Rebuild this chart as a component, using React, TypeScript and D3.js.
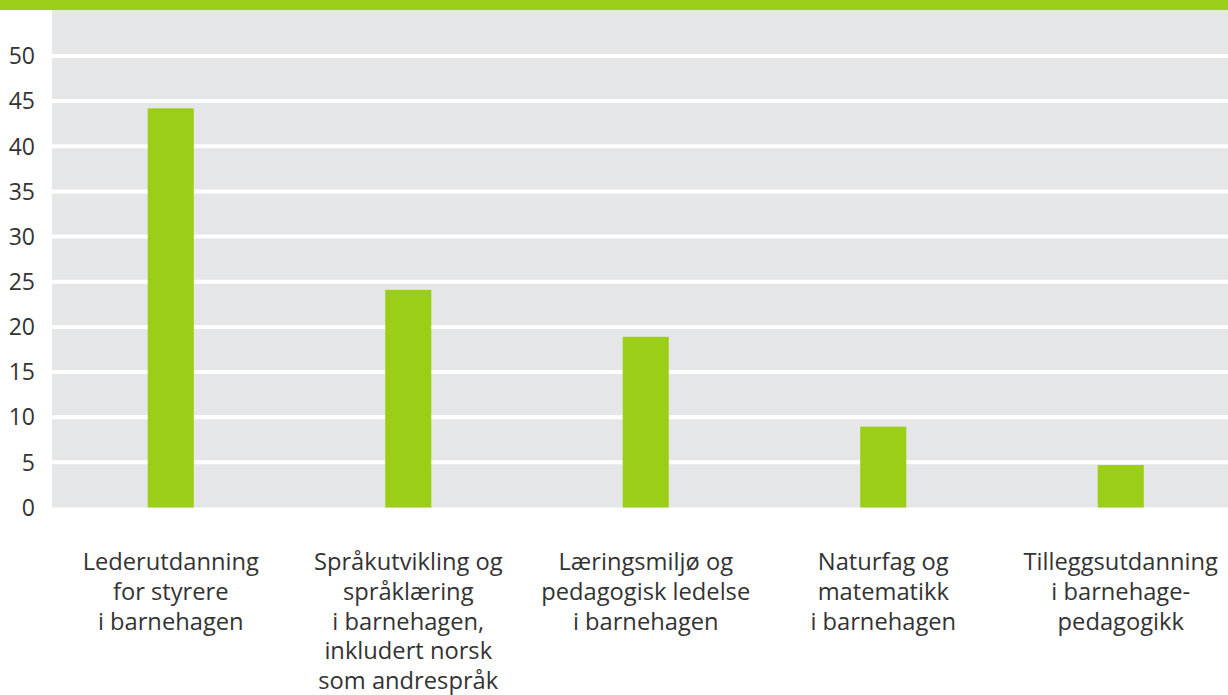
import React from 'react'
import * as d3 from 'd3'

// data
const categories = [
  ['Lederutdanning', 'for styrere', 'i barnehagen'],
  ['Språkutvikling og', 'språklæring', 'i barnehagen,', 'inkludert norsk', 'som andrespråk'],
  ['Læringsmiljø og', 'pedagogisk ledelse', 'i barnehagen'],
  ['Naturfag og', 'matematikk', 'i barnehagen'],
  ['Tilleggsutdanning', 'i barnehage-', 'pedagogikk'],
]
const values = [44.2, 24.1, 18.9, 8.95, 4.7]
const yTicks = [0, 5, 10, 15, 20, 25, 30, 35, 40, 45, 50]
const title = 'Antall studenter på videreutdanningstilbud og tilleggsutdanning i barnehagen'

const W = 1228, H = 695
const GREEN = '#9bcf17'
const GRAY = '#e5e6e8'
const TEXT = '#333333'
const FONT = '"Open Sans", "Noto Sans", sans-serif'

export default function App() {
  const left = 52, top = 10, bottom = 507.5
  const keys = categories.map((_, i) => String(i))
  const x = d3.scaleBand().domain(keys).range([left, 1239.5]).padding(0)
  const y = d3.scaleLinear().domain([0, 55]).range([bottom, 10.8])
  const bw = x.bandwidth() * 0.194

  return (
    <svg width={W} height={H} style={{ position: 'absolute', left: 0, top: 0 }} fontFamily={FONT}>
      <rect x={0} y={0} width={W} height={top} fill={GREEN} />
      {/* title sits mostly above the visible area, as in the reference */}
      <text x={W / 2} y={-6} textAnchor="middle" fill="#fff" fontWeight={700} fontSize={24}>{title}</text>
      <rect x={left} y={top} width={W - left} height={bottom - top} fill={GRAY} />
      {yTicks.filter(t => t > 0).map(t => (
        <line key={t} x1={left} x2={W} y1={y(t)} y2={y(t)} stroke="#fff" strokeWidth={4} />
      ))}
      {values.map((v, i) => {
        const cx = x(keys[i])! + x.bandwidth() / 2
        return <rect key={i} x={cx - bw / 2} y={y(v)} width={bw} height={y(0) - y(v)} fill={GREEN} />
      })}
      {yTicks.map(t => (
        <text key={t} x={35} y={y(t)} dy="0.36em" textAnchor="end" fill={TEXT} fontSize={23}>{t}</text>
      ))}
      {categories.map((lines, i) => {
        const cx = x(keys[i])! + x.bandwidth() / 2
        return (
          <text key={i} x={cx} y={570} textAnchor="middle" fill={TEXT} fontSize={23.7}>
            {lines.map((l, j) => <tspan key={j} x={cx} dy={j === 0 ? 0 : 29.8}>{l}</tspan>)}
          </text>
        )
      })}
    </svg>
  )
}
